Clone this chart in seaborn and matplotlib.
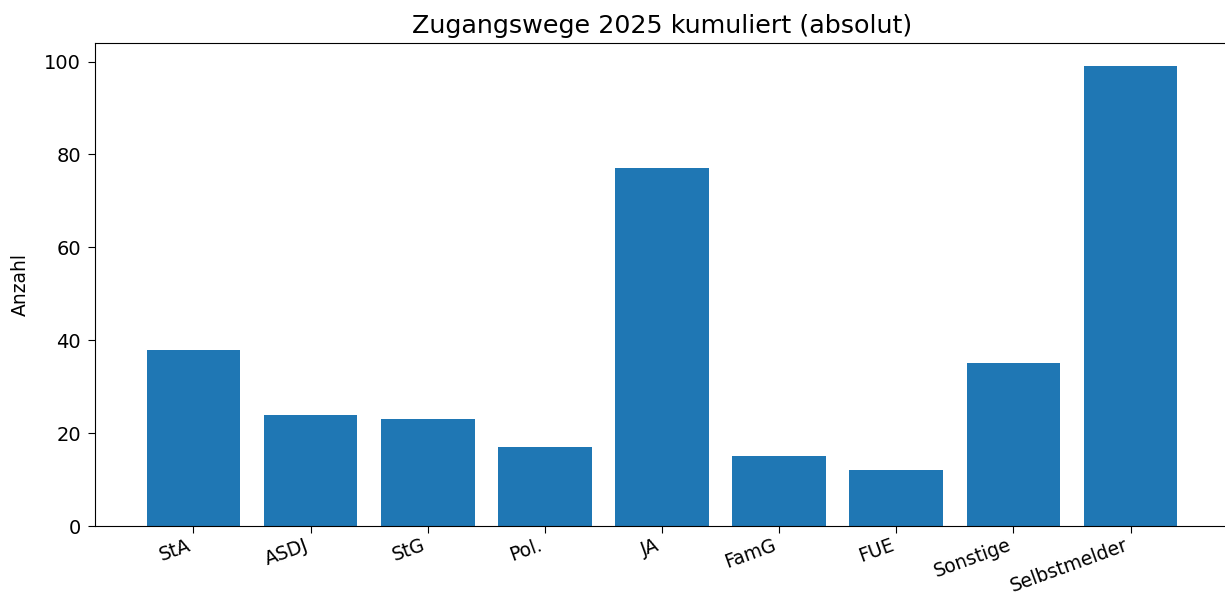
import matplotlib
matplotlib.use("Agg")
import matplotlib.pyplot as plt
import seaborn as sns
import pandas as pd

categories = ["StA", "ASDJ", "StG", "Pol.", "JA", "FamG", "FUE", "Sonstige", "Selbstmelder"]
values = [38, 24, 23, 17, 77, 15, 12, 35, 99]

df = pd.DataFrame({"Zugangsweg": categories, "Anzahl": values})

fig = plt.figure(figsize=(12.25, 5.96), dpi=100)
ax = fig.add_axes([95 / 1225, (596 - 526) / 596, (1229 - 95) / 1225, (526 - 43) / 596])

sns.barplot(data=df, x="Zugangsweg", y="Anzahl", color="#1f77b4", saturation=1,
            width=0.8, ax=ax, order=categories)

ax.set_xlim(-0.84, 8.84)
ax.set_ylim(0, 104)
ax.set_yticks([0, 20, 40, 60, 80, 100])
ax.set_title("Zugangswege 2025 kumuliert (absolut)", fontsize=18.3, pad=7)
ax.set_xlabel("")
ax.set_ylabel("Anzahl", fontsize=13.5, labelpad=10)
ax.tick_params(axis="y", labelsize=14, length=5, pad=5)
ax.tick_params(axis="x", labelsize=13.5, length=5, pad=2)
plt.setp(ax.get_xticklabels(), rotation=20, ha="right")

fig.savefig("out.png", dpi=100)
